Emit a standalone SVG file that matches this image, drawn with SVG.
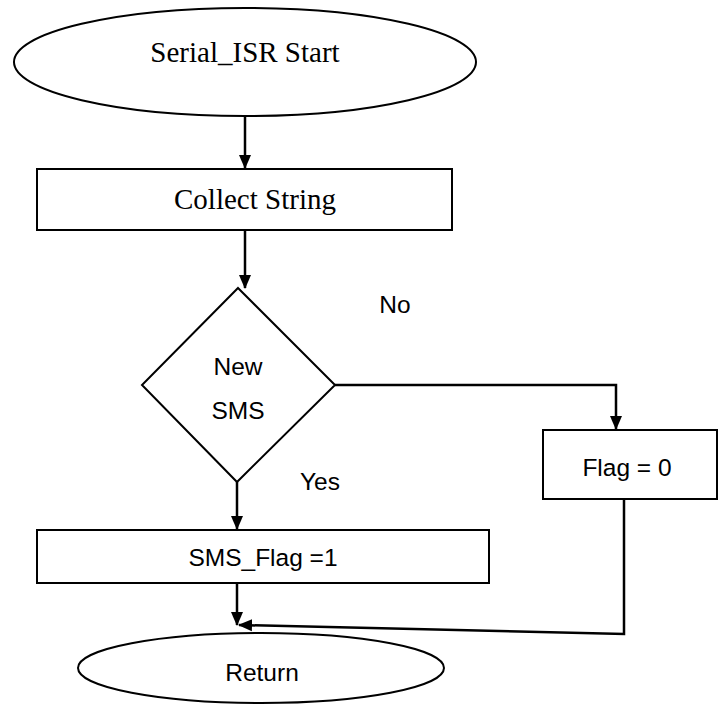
<svg xmlns="http://www.w3.org/2000/svg" width="718" height="704" viewBox="0 0 718 704">
<defs>
<style>
.s{fill:#fff;stroke:#000;stroke-width:2}
.c{fill:none;stroke:#000;stroke-width:2.5}
.tr{font-family:"Liberation Serif",serif;font-size:29px;fill:#000;text-anchor:middle}
.ts{font-family:"Liberation Sans",sans-serif;font-size:24.5px;fill:#000;text-anchor:middle}
</style>
<marker id="ah" markerWidth="14" markerHeight="14" refX="13" refY="7" orient="auto" markerUnits="userSpaceOnUse" viewBox="0 0 14 14">
<path d="M0,1 L14,7 L0,13 Z" fill="#000"/>
</marker>
</defs>
<rect width="718" height="704" fill="#fff"/>
<g id="connectors">
<line class="c" x1="245" y1="116" x2="245" y2="168" marker-end="url(#ah)"/>
<line class="c" x1="245" y1="231" x2="245" y2="288" marker-end="url(#ah)"/>
<polyline class="c" points="335,385 616,385 616,429" marker-end="url(#ah)"/>
<line class="c" x1="237" y1="482" x2="237" y2="529" marker-end="url(#ah)"/>
<line class="c" x1="237" y1="584" x2="237" y2="625" marker-end="url(#ah)"/>
<polyline class="c" points="624,499 624,634 239,625" marker-end="url(#ah)"/>
</g>
<g id="start">
<ellipse class="s" cx="245" cy="62" rx="231" ry="54"/>
<text class="tr" x="245" y="62">Serial_ISR Start</text>
</g>
<g id="collect">
<rect class="s" x="37" y="169" width="415" height="61"/>
<text class="tr" x="255" y="209">Collect String</text>
</g>
<g id="decision">
<polygon class="s" points="238,288 335,385 237,482 142,385"/>
<text class="ts" x="238" y="375">New</text>
<text class="ts" x="238" y="419">SMS</text>
</g>
<g id="labels">
<text class="ts" x="395" y="313">No</text>
<text class="ts" x="320" y="490">Yes</text>
</g>
<g id="flag0">
<rect class="s" x="543" y="430" width="174" height="69"/>
<text class="ts" x="627" y="476">Flag = 0</text>
</g>
<g id="smsflag">
<rect class="s" x="37" y="530" width="452" height="53"/>
<text class="ts" x="263" y="566">SMS_Flag =1</text>
</g>
<g id="return">
<ellipse class="s" cx="261" cy="668" rx="183" ry="35"/>
<text class="ts" x="262" y="681">Return</text>
</g>
</svg>
